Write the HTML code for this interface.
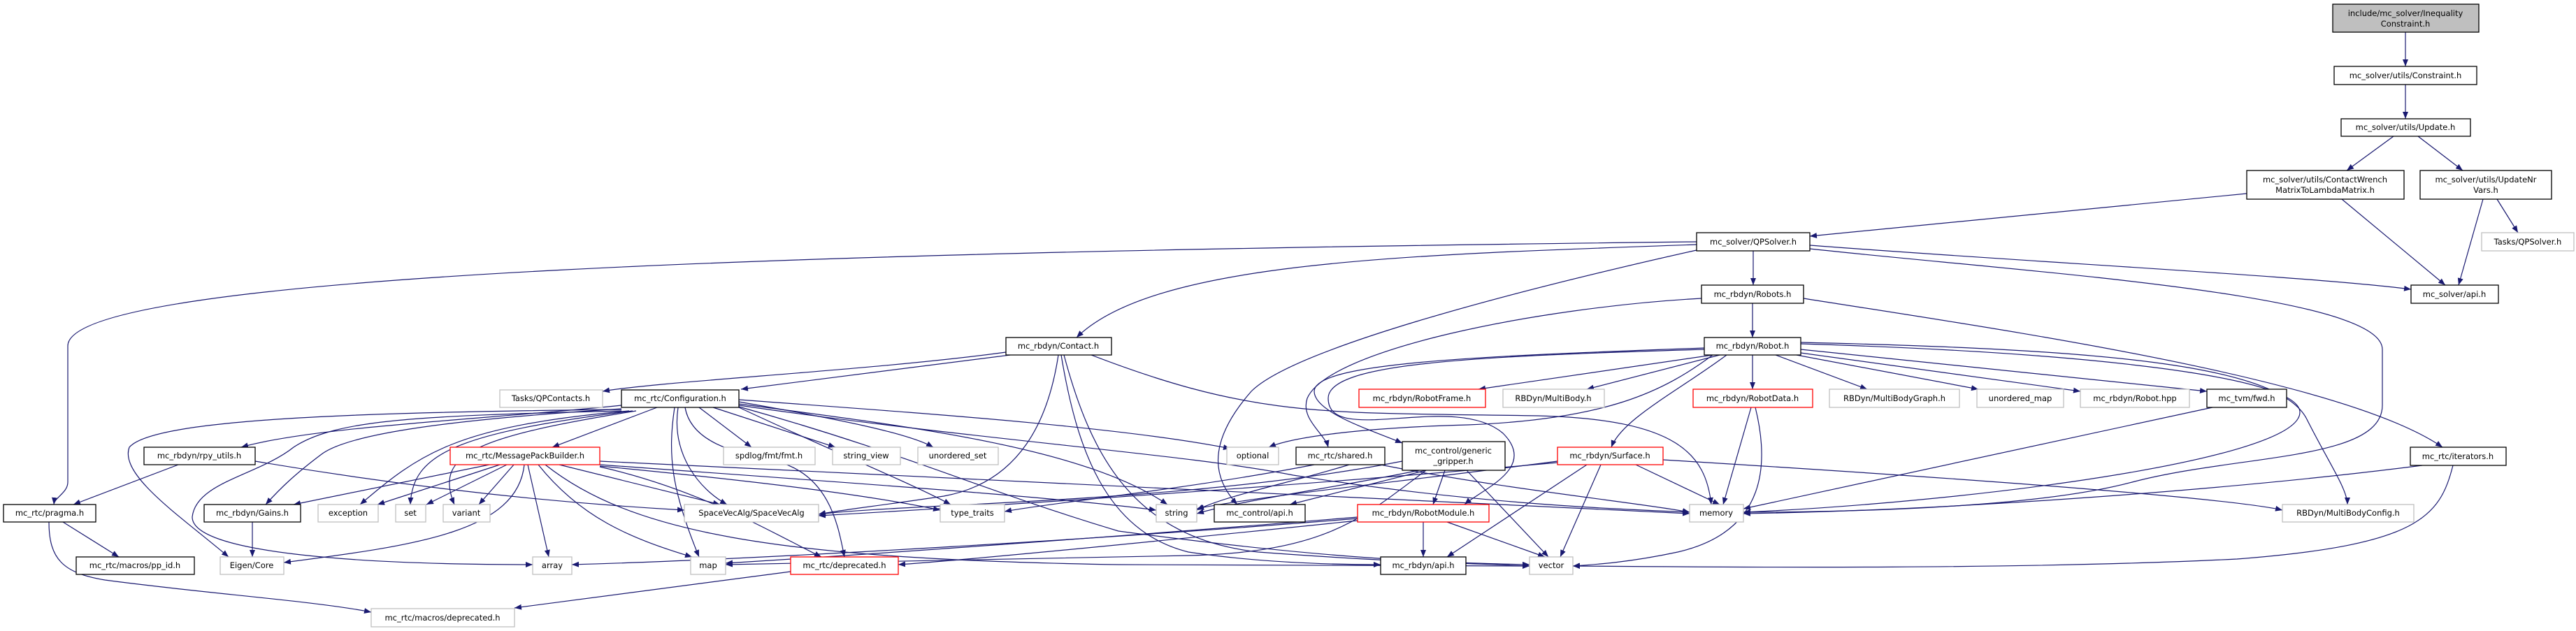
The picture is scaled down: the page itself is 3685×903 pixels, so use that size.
<!DOCTYPE html>
<html><head><meta charset="utf-8"><style>
html,body{margin:0;padding:0;background:#fff;}
svg{display:block;}
text{font-family:"DejaVu Sans","Liberation Sans",sans-serif;font-size:11.5px;fill:#000;text-anchor:middle;}
.b{fill:#fff;stroke:#000;stroke-width:1.3;}
.g{fill:#fff;stroke:#bfbfbf;stroke-width:1.3;}
.r{fill:#fff;stroke:#ff0000;stroke-width:1.3;}
.t{fill:#bfbfbf;stroke:#000;stroke-width:1.3;}
path.e{fill:none;stroke:#191970;stroke-width:1.2;marker-end:url(#a);}
</style></head><body>
<svg width="3685" height="903" viewBox="0 0 3685 903" xmlns="http://www.w3.org/2000/svg">
<defs><marker id="a" markerUnits="userSpaceOnUse" markerWidth="11" markerHeight="8" refX="10" refY="4" orient="auto"><path d="M0,0 L10,4 L0,8 z" fill="#191970"/></marker></defs>
<g>
<path class="e" d="M3441 46 L3441 95"/>
<path class="e" d="M3441 121 L3441 170"/>
<path class="e" d="M3424 195 L3357 244"/>
<path class="e" d="M3459 195 L3523 244"/>
<path class="e" d="M3214 277 L2589 338"/>
<path class="e" d="M3350 285 L3498 408"/>
<path class="e" d="M3552 285 L3517 408"/>
<path class="e" d="M3572 285 L3602 333"/>
<path class="e" d="M2589 351 C2900 375,3300 395,3449 414"/>
<path class="e" d="M2508 359 L2508 408"/>
<path class="e" d="M2427 350 C2000 365,1650 375,1540 483"/>
<path class="e" d="M2427 346 C1200 360,97 390,97 495 L97 690 C97 705,78 712,77 722"/>
<path class="e" d="M2427 358 C2150 420,1850 500,1790 560 C1720 640,1740 690,1770 722"/>
<path class="e" d="M2589 356 C2900 390,3408 420,3408 500 L3408 580 C3408 660,3200 650,3050 690 C2900 730,2600 733,2494 733"/>
<path class="e" d="M2507 434 L2507 483"/>
<path class="e" d="M2580 427 C2850 470,3350 540,3494 640"/>
<path class="e" d="M2434 427 C2200 440,1900 500,1870 570 C1860 600,1895 620,1900 640"/>
<path class="e" d="M2507 508 L2507 557"/>
<path class="e" d="M2450 508 L2115 557"/>
<path class="e" d="M2460 508 L2270 557"/>
<path class="e" d="M2540 508 L2671 557"/>
<path class="e" d="M2570 508 L2830 557"/>
<path class="e" d="M2576 505 L2976 560"/>
<path class="e" d="M2576 500 L3157 560"/>
<path class="e" d="M2576 490 C3000 500,3260 520,3300 600 C3330 660,3358 700,3358 722"/>
<path class="e" d="M2576 492 C3000 505,3290 540,3290 590 C3290 660,2800 720,2494 733"/>
<path class="e" d="M2470 508 C2400 560,2320 600,2305 640"/>
<path class="e" d="M2438 498 C2100 510,1880 520,1880 560 C1880 590,1960 615,2006 634"/>
<path class="e" d="M2438 500 C2100 510,1900 520,1900 570 C1900 640,2080 560,2150 620 C2200 670,2120 700,2095 722"/>
<path class="e" d="M2450 508 C2380 560,2300 600,2100 608 C1950 612,1850 625,1815 640"/>
<path class="e" d="M1439 504 C1250 530,950 545,862 560"/>
<path class="e" d="M1445 508 L1060 557"/>
<path class="e" d="M1561 508 C1800 600,1900 590,2200 595 C2400 600,2440 650,2448 722"/>
<path class="e" d="M1514 508 C1500 600,1460 690,1350 710 C1250 725,1200 730,1171 736"/>
<path class="e" d="M1518 508 C1540 640,1580 760,1700 790 C1800 805,1900 808,1975 808"/>
<path class="e" d="M1522 508 C1560 650,1620 770,1800 790 C2000 805,2100 806,2188 810"/>
<path class="e" d="M940 583 L790 640"/>
<path class="e" d="M889 580 C700 600,450 610,345 640"/>
<path class="e" d="M889 585 C650 600,500 620,460 650 C420 680,400 700,380 722"/>
<path class="e" d="M889 586 C500 590,220 600,185 640 C170 680,260 740,327 797"/>
<path class="e" d="M889 588 C600 595,480 600,420 640 C370 680,280 690,275 740 C275 790,500 808,762 808"/>
<path class="e" d="M900 588 C650 610,600 650,515 722"/>
<path class="e" d="M905 588 C650 620,590 650,587 722"/>
<path class="e" d="M910 588 C680 625,620 650,650 722"/>
<path class="e" d="M1000 583 L1075 640"/>
<path class="e" d="M1020 583 L1195 640"/>
<path class="e" d="M1057 575 C1200 600,1300 620,1335 640"/>
<path class="e" d="M970 583 C960 650,1000 700,1040 722"/>
<path class="e" d="M965 583 C955 650,960 700,1000 797"/>
<path class="e" d="M980 583 C990 640,1070 650,1110 660 C1190 680,1200 760,1208 797"/>
<path class="e" d="M1057 572 C1300 590,1600 610,1760 642"/>
<path class="e" d="M1057 578 C1300 610,1550 640,1670 722"/>
<path class="e" d="M1057 580 C1400 630,1700 650,1850 680 C2100 720,2300 728,2417 733"/>
<path class="e" d="M1057 582 C1300 650,1400 700,1600 760 C1900 800,2050 805,2188 808"/>
<path class="e" d="M1057 583 C1200 650,1300 690,1360 722"/>
<path class="e" d="M700 665 L420 722"/>
<path class="e" d="M715 665 L540 722"/>
<path class="e" d="M725 665 L610 722"/>
<path class="e" d="M735 665 L685 722"/>
<path class="e" d="M800 665 L1030 722"/>
<path class="e" d="M750 665 C740 760,600 780,406 805"/>
<path class="e" d="M755 665 L785 797"/>
<path class="e" d="M770 665 C830 740,900 770,990 797"/>
<path class="e" d="M858 665 C1200 690,1500 710,1654 730"/>
<path class="e" d="M858 667 C1100 690,1250 710,1345 730"/>
<path class="e" d="M858 660 C1500 690,2100 720,2417 735"/>
<path class="e" d="M780 665 C900 760,1100 800,1600 808 C1900 810,2100 810,2188 810"/>
<path class="e" d="M858 668 C1000 700,1100 760,1175 797"/>
<path class="e" d="M255 665 L105 722"/>
<path class="e" d="M365 660 C600 700,800 720,979 730"/>
<path class="e" d="M90 747 L170 797"/>
<path class="e" d="M70 747 C70 800,90 820,150 830 C300 850,450 860,531 876"/>
<path class="e" d="M361 747 L361 797"/>
<path class="e" d="M1131 818 L736 870"/>
<path class="e" d="M1930 665 C1850 690,1750 710,1712 730"/>
<path class="e" d="M1975 665 C2150 700,2350 720,2417 733"/>
<path class="e" d="M1880 665 C1700 700,1500 720,1437 732"/>
<path class="e" d="M2030 673 C1900 700,1780 715,1712 735"/>
<path class="e" d="M2040 673 L1845 722"/>
<path class="e" d="M2067 673 L2050 722"/>
<path class="e" d="M2098 673 L2215 797"/>
<path class="e" d="M2040 673 C1950 740,1900 790,1700 795 C1400 800,1100 805,1038 808"/>
<path class="e" d="M2006 660 C1700 720,1300 720,1171 736"/>
<path class="e" d="M2228 660 C2000 690,1800 710,1712 728"/>
<path class="e" d="M2228 662 C1800 700,1400 725,1171 738"/>
<path class="e" d="M2340 665 L2460 722"/>
<path class="e" d="M2290 665 L2232 797"/>
<path class="e" d="M2270 665 L2070 797"/>
<path class="e" d="M2379 658 C2900 690,3200 715,3265 730"/>
<path class="e" d="M2505 583 L2465 722"/>
<path class="e" d="M2511 583 C2530 660,2530 760,2400 790 C2330 805,2280 808,2250 810"/>
<path class="e" d="M2036 747 L2036 797"/>
<path class="e" d="M2070 747 L2210 797"/>
<path class="e" d="M1942 740 C1700 760,1300 790,1038 806"/>
<path class="e" d="M1942 742 C1600 770,1100 800,818 808"/>
<path class="e" d="M1942 745 C1700 770,1400 800,1285 808"/>
<path class="e" d="M3165 583 L2494 728"/>
<path class="e" d="M3465 666 C3200 700,2800 730,2494 735"/>
<path class="e" d="M3509 666 C3490 740,3460 780,3200 800 C2900 815,2500 812,2250 810"/>
</g>
<g>
<rect class="t" x="3337" y="6" width="209" height="40"/><text x="3441" y="23">include/mc_solver/Inequality</text><text x="3441" y="38">Constraint.h</text>
<rect class="b" x="3339" y="95" width="204" height="26"/><text x="3441" y="112">mc_solver/utils/Constraint.h</text>
<rect class="b" x="3349" y="170" width="185" height="25"/><text x="3441" y="186">mc_solver/utils/Update.h</text>
<rect class="b" x="3214" y="244" width="225" height="41"/><text x="3326" y="261">mc_solver/utils/ContactWrench</text><text x="3326" y="276">MatrixToLambdaMatrix.h</text>
<rect class="b" x="3462" y="244" width="188" height="41"/><text x="3556" y="261">mc_solver/utils/UpdateNr</text><text x="3556" y="276">Vars.h</text>
<rect class="g" x="3550" y="333" width="132" height="26"/><text x="3616" y="350">Tasks/QPSolver.h</text>
<rect class="b" x="2427" y="333" width="162" height="26"/><text x="2508" y="350">mc_solver/QPSolver.h</text>
<rect class="b" x="3449" y="408" width="125" height="26"/><text x="3511" y="425">mc_solver/api.h</text>
<rect class="b" x="2434" y="408" width="146" height="26"/><text x="2507" y="425">mc_rbdyn/Robots.h</text>
<rect class="b" x="1439" y="483" width="151" height="25"/><text x="1514" y="499">mc_rbdyn/Contact.h</text>
<rect class="b" x="2438" y="483" width="138" height="25"/><text x="2507" y="499">mc_rbdyn/Robot.h</text>
<rect class="g" x="715" y="558" width="147" height="25"/><text x="788" y="574">Tasks/QPContacts.h</text>
<rect class="b" x="889" y="558" width="168" height="25"/><text x="973" y="574">mc_rtc/Configuration.h</text>
<rect class="r" x="1944" y="557" width="181" height="26"/><text x="2034" y="574">mc_rbdyn/RobotFrame.h</text>
<rect class="g" x="2150" y="557" width="145" height="26"/><text x="2222" y="574">RBDyn/MultiBody.h</text>
<rect class="r" x="2422" y="557" width="171" height="26"/><text x="2507" y="574">mc_rbdyn/RobotData.h</text>
<rect class="g" x="2617" y="557" width="186" height="26"/><text x="2710" y="574">RBDyn/MultiBodyGraph.h</text>
<rect class="g" x="2828" y="557" width="124" height="26"/><text x="2890" y="574">unordered_map</text>
<rect class="g" x="2976" y="557" width="156" height="26"/><text x="3054" y="574">mc_rbdyn/Robot.hpp</text>
<rect class="b" x="3157" y="557" width="114" height="26"/><text x="3214" y="574">mc_tvm/fwd.h</text>
<rect class="b" x="206" y="640" width="159" height="25"/><text x="285" y="656">mc_rbdyn/rpy_utils.h</text>
<rect class="r" x="644" y="640" width="214" height="25"/><text x="751" y="656">mc_rtc/MessagePackBuilder.h</text>
<rect class="g" x="1035" y="640" width="131" height="25"/><text x="1100" y="656">spdlog/fmt/fmt.h</text>
<rect class="g" x="1191" y="640" width="97" height="25"/><text x="1239" y="656">string_view</text>
<rect class="g" x="1313" y="640" width="115" height="25"/><text x="1370" y="656">unordered_set</text>
<rect class="g" x="1755" y="640" width="74" height="25"/><text x="1792" y="656">optional</text>
<rect class="b" x="1854" y="640" width="127" height="25"/><text x="1917" y="656">mc_rtc/shared.h</text>
<rect class="b" x="2006" y="632" width="147" height="41"/><text x="2079" y="649">mc_control/generic</text><text x="2079" y="664">_gripper.h</text>
<rect class="r" x="2228" y="640" width="151" height="25"/><text x="2303" y="656">mc_rbdyn/Surface.h</text>
<rect class="b" x="3448" y="640" width="137" height="26"/><text x="3516" y="657">mc_rtc/iterators.h</text>
<rect class="b" x="5" y="722" width="132" height="25"/><text x="71" y="738">mc_rtc/pragma.h</text>
<rect class="b" x="292" y="722" width="138" height="25"/><text x="361" y="738">mc_rbdyn/Gains.h</text>
<rect class="g" x="455" y="722" width="86" height="25"/><text x="498" y="738">exception</text>
<rect class="g" x="566" y="722" width="43" height="25"/><text x="587" y="738">set</text>
<rect class="g" x="634" y="722" width="67" height="25"/><text x="667" y="738">variant</text>
<rect class="g" x="979" y="722" width="192" height="25"/><text x="1075" y="738">SpaceVecAlg/SpaceVecAlg</text>
<rect class="g" x="1345" y="722" width="92" height="25"/><text x="1391" y="738">type_traits</text>
<rect class="g" x="1654" y="722" width="58" height="25"/><text x="1683" y="738">string</text>
<rect class="b" x="1737" y="722" width="130" height="25"/><text x="1802" y="738">mc_control/api.h</text>
<rect class="r" x="1942" y="722" width="188" height="25"/><text x="2036" y="738">mc_rbdyn/RobotModule.h</text>
<rect class="g" x="2417" y="722" width="77" height="25"/><text x="2455" y="738">memory</text>
<rect class="g" x="3265" y="722" width="188" height="25"/><text x="3359" y="738">RBDyn/MultiBodyConfig.h</text>
<rect class="b" x="109" y="797" width="169" height="25"/><text x="193" y="813">mc_rtc/macros/pp_id.h</text>
<rect class="g" x="315" y="797" width="91" height="25"/><text x="360" y="813">Eigen/Core</text>
<rect class="g" x="762" y="797" width="56" height="25"/><text x="790" y="813">array</text>
<rect class="g" x="988" y="797" width="50" height="25"/><text x="1013" y="813">map</text>
<rect class="r" x="1131" y="797" width="154" height="25"/><text x="1208" y="813">mc_rtc/deprecated.h</text>
<rect class="b" x="1975" y="797" width="122" height="25"/><text x="2036" y="813">mc_rbdyn/api.h</text>
<rect class="g" x="2188" y="797" width="62" height="25"/><text x="2219" y="813">vector</text>
<rect class="g" x="531" y="871" width="205" height="26"/><text x="633" y="888">mc_rtc/macros/deprecated.h</text>
</g>
</svg>
</body></html>
